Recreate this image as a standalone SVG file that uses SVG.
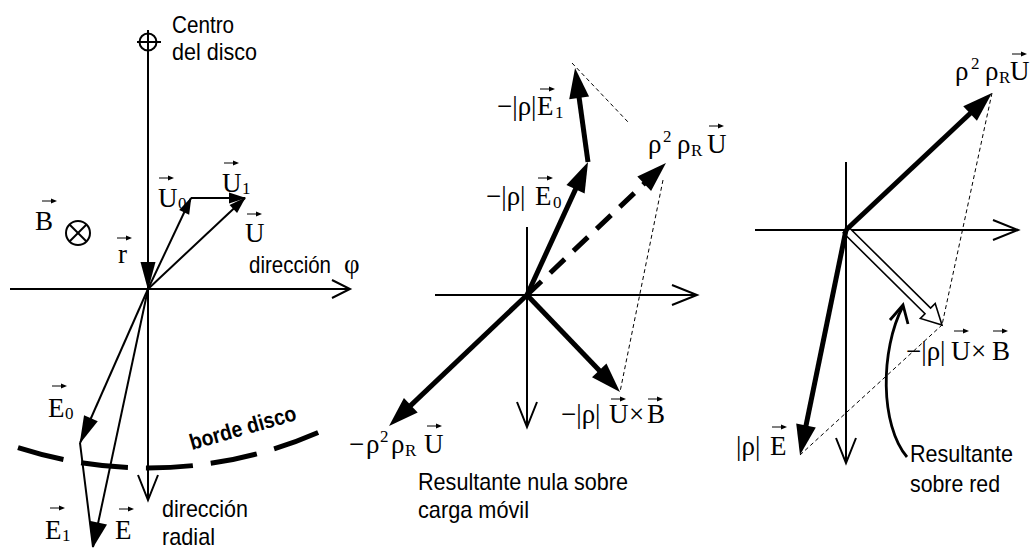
<svg xmlns="http://www.w3.org/2000/svg" xmlns:xlink="http://www.w3.org/1999/xlink" width="1033" height="549" viewBox="0 0 1033 549">
<style>
.ln{stroke:#000;stroke-width:2;fill:none}
.th{stroke:#000;stroke-width:5;fill:none}
.dl{stroke:#000;stroke-width:1;fill:none;stroke-dasharray:4 3}
.sv{font-family:"Liberation Serif","Times New Roman",serif;font-size:27px;fill:#000}
.sb{font-size:17px}
.ss{font-family:"Liberation Sans",Arial,sans-serif;font-size:24px;fill:#000}
</style>
<defs>
<marker id="ahS" markerUnits="userSpaceOnUse" markerWidth="17" markerHeight="11" refX="16" refY="5.5" orient="auto" overflow="visible"><path d="M0,0 L17,5.5 L0,11 Z" fill="#000"/></marker>
<marker id="ahL" markerUnits="userSpaceOnUse" markerWidth="28" markerHeight="15" refX="27" refY="7.5" orient="auto" overflow="visible"><path d="M0,0 L28,7.5 L0,15 Z" fill="#000"/></marker>
<marker id="ahM" markerUnits="userSpaceOnUse" markerWidth="26" markerHeight="18" refX="25" refY="9" orient="auto" overflow="visible"><path d="M0,0 L26,9 L0,18 Z" fill="#000"/></marker>
<marker id="ahT" markerUnits="userSpaceOnUse" markerWidth="30" markerHeight="20" refX="4" refY="10" orient="auto" overflow="visible"><path d="M0,0 L30,10 L0,20 Z" fill="#000"/></marker>
<marker id="opS" markerUnits="userSpaceOnUse" markerWidth="18" markerHeight="18" refX="18" refY="9" orient="auto" overflow="visible"><path d="M0,0 L18,9 L0,18" fill="none" stroke="#000" stroke-width="2"/></marker>
<marker id="op" markerUnits="userSpaceOnUse" markerWidth="25" markerHeight="20" refX="25" refY="10" orient="auto" overflow="visible"><path d="M0,0 L25,10 L0,20" fill="none" stroke="#000" stroke-width="2"/></marker>
<g id="va"><line x1="0" y1="0" x2="11" y2="0" stroke="#000" stroke-width="1"/><path d="M9,-2.5 L15,0 L9,2.5 Z" fill="#000"/></g>
</defs>
<rect width="1033" height="549" fill="#fff"/>

<g id="connectors">
  <g id="left-lines">
    <circle cx="148" cy="42" r="8.5" class="ln"/>
    <line x1="137" y1="42" x2="161" y2="42" class="ln"/>
    <line x1="148" y1="30" x2="148" y2="289" class="ln" marker-end="url(#ahL)"/>
    <line x1="148" y1="289" x2="148" y2="500" class="ln" marker-end="url(#op)"/>
    <line x1="10" y1="289" x2="350" y2="289" class="ln" marker-end="url(#opS)"/>
    <line x1="148" y1="289" x2="191" y2="198" class="ln" marker-end="url(#ahS)"/>
    <line x1="191" y1="198" x2="245" y2="198" class="ln" marker-end="url(#ahS)"/>
    <line x1="148" y1="289" x2="245" y2="198" class="ln" marker-end="url(#ahS)"/>
    <line x1="148" y1="289" x2="80" y2="443" class="ln" marker-end="url(#ahL)"/>
    <line x1="80" y1="443" x2="93" y2="547" class="ln"/>
    <line x1="148" y1="289" x2="93" y2="547" class="ln" marker-end="url(#ahM)"/>
    <path d="M18,447.7 A426,426 0 0 0 322,430.8" fill="none" stroke="#000" stroke-width="5" stroke-dasharray="47 18"/>
  </g>
  <g id="middle-lines">
    <line x1="435" y1="295" x2="697" y2="295" class="ln" marker-end="url(#op)"/>
    <line x1="527" y1="227" x2="527" y2="427" class="ln" marker-end="url(#op)"/>
    <line x1="572" y1="63" x2="628" y2="122" class="dl"/>
    <line x1="663" y1="180" x2="620" y2="392" class="dl"/>
    <line x1="527" y1="295" x2="577.2" y2="185.6" class="th" marker-end="url(#ahT)"/>
    <line x1="588" y1="162" x2="578.6" y2="93.8" class="th" marker-end="url(#ahT)"/>
    <line x1="527" y1="295" x2="647.1" y2="180.9" class="th" stroke-dasharray="20 12" marker-end="url(#ahT)"/>
    <line x1="527" y1="295" x2="602" y2="373.2" class="th" marker-end="url(#ahT)"/>
    <line x1="527" y1="295" x2="407.9" y2="408.1" class="th" marker-end="url(#ahT)"/>
  </g>
  <g id="right-lines">
    <line x1="755" y1="230" x2="1018" y2="230" class="ln" marker-end="url(#op)"/>
    <line x1="846" y1="162" x2="846" y2="463" class="ln" marker-end="url(#op)"/>
    <line x1="992" y1="93" x2="942" y2="325" class="dl"/>
    <line x1="800" y1="455" x2="942" y2="325" class="dl"/>
    <polygon points="848.8,227.2 930.6,308.1 935.2,303.4 942,325 920.4,318.4 925,313.7 843.2,232.8" fill="#fff" stroke="#000" stroke-width="1.6" stroke-linejoin="miter"/>
    <line x1="846" y1="230" x2="973" y2="110.8" class="th" marker-end="url(#ahT)"/>
    <line x1="846" y1="230" x2="805.2" y2="429.5" class="th" marker-end="url(#ahT)"/>
    <path d="M907,457 C880,425 880,350 903,306" fill="none" stroke="#000" stroke-width="2.8"/>
    <path d="M890,320 L903,305 L908,324" fill="none" stroke="#000" stroke-width="2.8"/>
  </g>
</g>

<g id="left-labels">
  <g id="centro"><text class="ss" x="172" y="33" textLength="62" lengthAdjust="spacingAndGlyphs">Centro</text><text class="ss" x="172" y="60" textLength="85" lengthAdjust="spacingAndGlyphs">del disco</text></g>
  <g id="B-label"><text class="sv" x="35" y="230">B</text><use xlink:href="#va" x="42" y="201"/></g>
  <g id="B-symbol"><circle cx="78" cy="233" r="12" class="ln"/><line x1="69.5" y1="224.5" x2="86.5" y2="241.5" class="ln"/><line x1="86.5" y1="224.5" x2="69.5" y2="241.5" class="ln"/></g>
  <g id="r-label"><text class="sv" x="118" y="263">r</text><use xlink:href="#va" x="117" y="238"/></g>
  <g id="U0-label"><text class="sv" y="207"><tspan x="158">U</tspan><tspan class="sb" x="178" dy="2">0</tspan></text><use xlink:href="#va" x="159" y="178"/></g>
  <g id="U1-label"><text class="sv" y="192"><tspan x="222">U</tspan><tspan class="sb" x="242" dy="2">1</tspan></text><use xlink:href="#va" x="224" y="163"/></g>
  <g id="U-label"><text class="sv" x="245" y="242">U</text><use xlink:href="#va" x="247" y="214"/></g>
  <g id="dirphi"><text class="ss" x="249" y="273" textLength="82" lengthAdjust="spacingAndGlyphs">dirección</text><text class="sv" x="344" y="273">φ</text></g>
  <g id="E0-label"><text class="sv" y="417"><tspan x="48">E</tspan><tspan class="sb" x="65" dy="2">0</tspan></text><use xlink:href="#va" x="52" y="386"/></g>
  <g id="E1-label"><text class="sv" y="539"><tspan x="45">E</tspan><tspan class="sb" x="62" dy="2">1</tspan></text><use xlink:href="#va" x="50" y="508"/></g>
  <g id="E-label"><text class="sv" x="115" y="539">E</text><use xlink:href="#va" x="119" y="509"/></g>
  <g id="borde"><text transform="translate(192,450) rotate(-16)" style="font-family:'Liberation Sans',Arial,sans-serif;font-size:22px;font-weight:bold" textLength="110" lengthAdjust="spacingAndGlyphs">borde disco</text></g>
  <g id="dirrad"><text class="ss" x="162" y="517" textLength="86" lengthAdjust="spacingAndGlyphs">dirección</text><text class="ss" x="162" y="545" textLength="53" lengthAdjust="spacingAndGlyphs">radial</text></g>
</g>

<g id="middle-labels">
  <g id="mE1"><text class="sv" y="115"><tspan x="497">−|ρ|</tspan><tspan x="537">E</tspan><tspan class="sb" x="555" dy="3">1</tspan></text><use xlink:href="#va" x="540" y="89"/></g>
  <g id="mE0"><text class="sv" y="205"><tspan x="486">−|ρ|</tspan><tspan x="535">E</tspan><tspan class="sb" x="553" dy="3">0</tspan></text><use xlink:href="#va" x="538" y="178"/></g>
  <g id="mU"><text class="sv" y="153"><tspan x="648">ρ</tspan><tspan class="sb" x="663" dy="-11">2</tspan><tspan x="677" dy="11">ρ</tspan><tspan class="sb" x="691" dy="3">R</tspan><tspan x="707" dy="-3">U</tspan></text><use xlink:href="#va" x="709" y="126"/></g>
  <g id="mUxB"><text class="sv" y="423"><tspan x="561">−|ρ|</tspan><tspan x="609">U</tspan><tspan x="629">×</tspan><tspan x="647">B</tspan></text><use xlink:href="#va" x="611" y="399"/><use xlink:href="#va" x="648" y="399"/></g>
  <g id="mnegU"><text class="sv" y="453"><tspan x="349">−</tspan><tspan x="366">ρ</tspan><tspan class="sb" x="380" dy="-11">2</tspan><tspan x="391" dy="11">ρ</tspan><tspan class="sb" x="405" dy="3">R</tspan><tspan x="424" dy="-3">U</tspan></text><use xlink:href="#va" x="427" y="426"/></g>
  <g id="mres"><text class="ss" x="418" y="490" textLength="210" lengthAdjust="spacingAndGlyphs">Resultante nula sobre</text><text class="ss" x="418" y="518" textLength="111" lengthAdjust="spacingAndGlyphs">carga móvil</text></g>
</g>

<g id="right-labels">
  <g id="rU"><text class="sv" y="80"><tspan x="955">ρ</tspan><tspan class="sb" x="971" dy="-11">2</tspan><tspan x="985" dy="11">ρ</tspan><tspan class="sb" x="999" dy="3">R</tspan><tspan x="1010" dy="-3">U</tspan></text><use xlink:href="#va" x="1012" y="54"/></g>
  <g id="rUxB"><text class="sv" y="360"><tspan x="906">−|ρ|</tspan><tspan x="951">U</tspan><tspan x="971">×</tspan><tspan x="992">B</tspan></text><use xlink:href="#va" x="954" y="331"/><use xlink:href="#va" x="993" y="331"/></g>
  <g id="rE"><text class="sv" y="455"><tspan x="736">|ρ|</tspan><tspan x="770">E</tspan></text><use xlink:href="#va" x="772" y="427"/></g>
  <g id="rres"><text class="ss" x="910" y="462" textLength="103" lengthAdjust="spacingAndGlyphs">Resultante</text><text class="ss" x="910" y="492" textLength="90" lengthAdjust="spacingAndGlyphs">sobre red</text></g>
</g>
</svg>
